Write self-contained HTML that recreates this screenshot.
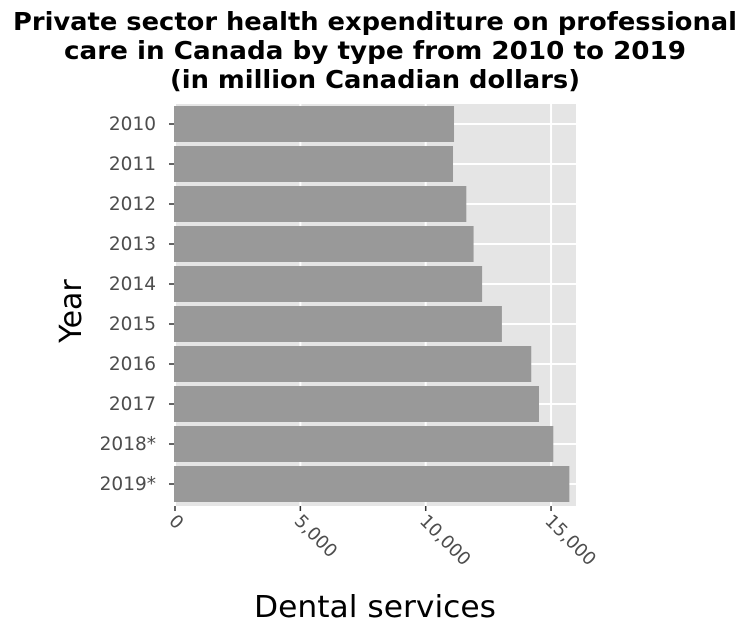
<!DOCTYPE html>
<html><head><meta charset="utf-8"><style>
body{margin:0;background:#fff;}
svg{display:block;font-family:"DejaVu Sans","Liberation Sans",sans-serif;}
</style></head><body>
<svg width="748" height="636">
<g font-weight="bold" font-size="25" text-anchor="middle" fill="#000" lengthAdjust="spacingAndGlyphs">
<text x="375" y="30" textLength="724" lengthAdjust="spacingAndGlyphs">Private sector health expenditure on professional</text>
<text x="375" y="59" textLength="622" lengthAdjust="spacingAndGlyphs">care in Canada by type from 2010 to 2019</text>
<text x="375" y="88" textLength="410" lengthAdjust="spacingAndGlyphs">(in million Canadian dollars)</text>
</g>
<rect x="174" y="104" width="402" height="402" fill="#e5e5e5"/>
<g id="grid"></g><g id="bars"></g><g id="axes"></g>
<text x="375" y="617" font-size="30" text-anchor="middle" fill="#000" textLength="242" lengthAdjust="spacingAndGlyphs">Dental services</text>
<text transform="translate(81,311) rotate(-90)" font-size="30" text-anchor="middle" fill="#000">Year</text>
</svg>
<script>
const categories=["2010","2011","2012","2013","2014","2015","2016","2017","2018*","2019*"];
const values=[11130,11090,11620,11910,12250,13040,14210,14520,15090,15730];
const xTicks=[0,5000,10000,15000];
const xTickLabels=["0","5,000","10,000","15,000"];
const NS="http://www.w3.org/2000/svg";
const x=v=>175+v*0.02507;
const y=i=>124+i*40;
function mk(t,a,p){const e=document.createElementNS(NS,t);for(const k in a)e.setAttribute(k,a[k]);p.appendChild(e);return e;}
const grid=document.getElementById('grid'),bars=document.getElementById('bars'),axes=document.getElementById('axes');
xTicks.forEach((v,i)=>{const g=mk('line',{x1:x(v),x2:x(v),y1:104,y2:506,stroke:'#fff','stroke-width':2},grid);


const t=mk('line',{x1:x(v),x2:x(v),y1:506,y2:511,stroke:'#333','stroke-width':1.5},axes);


const l=mk('text',{x:0,y:0,'font-size':18,fill:'#4d4d4d','text-anchor':'start',transform:`translate(${x(v)-7},${522}) rotate(45)`},axes);
l.textContent=xTickLabels[i];

});
categories.forEach((c,i)=>{const g=mk('line',{x1:174,x2:576,y1:y(i),y2:y(i),stroke:'#fff','stroke-width':2},grid);


const b=mk('rect',{x:x(0)-1,y:y(i)-18,width:x(values[i])-x(0)+1,height:36,fill:'#999'},bars);


const t=mk('line',{x1:169,x2:174,y1:y(i),y2:y(i),stroke:'#333','stroke-width':1.5},axes);


const l=mk('text',{x:156,y:y(i)+6,'font-size':18.5,fill:'#4d4d4d','text-anchor':'end'},axes);
l.textContent=c;

});
</script>
</body></html>
